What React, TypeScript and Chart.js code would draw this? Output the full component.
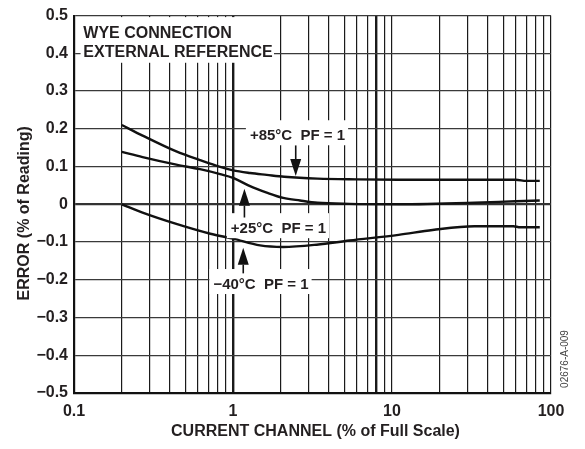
import React, { useEffect, useRef } from 'react';
import { Chart, registerables } from 'chart.js';

Chart.register(...registerables);

const FONT = '"Liberation Sans", Arial, Helvetica, sans-serif';
const TEXT = '#231f20';

// x-axis: current channel (% of full scale), log scale
const X_TICKS = [
  0.1, 0.2, 0.3, 0.4, 0.5, 0.6, 0.7, 0.8, 0.9,
  1, 2, 3, 4, 5, 6, 7, 8, 9,
  10, 20, 30, 40, 50, 60, 70, 80, 90, 100,
];
const X_LABELS = [0.1, 1, 10, 100];
const THICK_X = [1, 8];

// y-axis: error (% of reading)
const Y_MIN = -0.5;
const Y_MAX = 0.5;
const Y_STEP = 0.1;

// +85°C PF = 1
const x85 = [0.2, 0.27, 0.44, 0.62, 0.83, 1.0, 1.28, 1.63, 2.1, 3.4, 6, 11, 30, 60, 70, 85];
const y85 = [0.21, 0.182, 0.14, 0.117, 0.099, 0.09, 0.083, 0.078, 0.073, 0.068, 0.066, 0.065, 0.065, 0.065, 0.062, 0.062];

// +25°C PF = 1
const x25 = [0.2, 0.27, 0.44, 0.62, 0.83, 1.0, 1.28, 1.63, 2.07, 2.64, 3.4, 5.4, 11, 33, 60, 85];
const y25 = [0.139, 0.125, 0.105, 0.093, 0.08, 0.07, 0.048, 0.031, 0.017, 0.01, 0.004, 0.001, 0.0, 0.004, 0.008, 0.01];

// −40°C PF = 1
const xm40 = [0.2, 0.27, 0.44, 0.72, 1.0, 1.48, 2.07, 3.36, 5.4, 11, 18, 33, 58, 64, 85];
const ym40 = [0.0, -0.022, -0.052, -0.078, -0.091, -0.109, -0.113, -0.107, -0.096, -0.081, -0.068, -0.058, -0.058, -0.061, -0.061];

const SERIES_NAMES = ['+85°C  PF = 1', '+25°C  PF = 1', '−40°C  PF = 1'];

// annotation anchors in data units
const LABEL_X = [2.545, 1.93, 1.5];
const LABEL_Y = [0.1697, -0.0765, -0.2245];
const ARROW_X = [2.48, 1.18, 1.16];
const ARROW_TAIL = [0.156, -0.035, -0.183];
const ARROW_TIP = [0.075, 0.041, -0.115];

const TITLE_LINES = ['WYE CONNECTION', 'EXTERNAL REFERENCE'];
const X_TITLE = 'CURRENT CHANNEL (% of Full Scale)';
const Y_TITLE = 'ERROR (% of Reading)';
const CODE = '02676-A-009';

const toPoints = (xs: number[], ys: number[]) => xs.map((x, i) => ({ x, y: ys[i] }));

const fmtY = (v: number) => {
  const r = Math.round(v * 10) / 10;
  if (Math.abs(r) < 1e-9) return '0';
  return (r < 0 ? '\u2212' : '') + Math.abs(r).toFixed(1);
};

const annotPlugin = {
  id: 'annot',
  afterDraw(chart: any) {
    const { ctx, chartArea } = chart;
    const xs = chart.scales.x;
    const ys = chart.scales.y;
    ctx.save();

    // title box
    const tbL = xs.getPixelForValue(0.11);
    const tbR = xs.getPixelForValue(1.81);
    const tbT = chartArea.top + 1.5;
    const tbB = ys.getPixelForValue(0.375);
    ctx.fillStyle = '#ffffff';
    ctx.fillRect(tbL, tbT, tbR - tbL, tbB - tbT);
    ctx.fillStyle = TEXT;
    ctx.font = `bold 16px ${FONT}`;
    ctx.textAlign = 'left';
    ctx.textBaseline = 'alphabetic';
    const tx = xs.getPixelForValue(0.1145);
    ctx.fillText(TITLE_LINES[0], tx, ys.getPixelForValue(0.441));
    ctx.fillText(TITLE_LINES[1], tx, ys.getPixelForValue(0.389));

    // series labels + arrows
    ctx.font = `bold 15px ${FONT}`;
    for (let i = 0; i < SERIES_NAMES.length; i++) {
      const cx = xs.getPixelForValue(LABEL_X[i]);
      const by = ys.getPixelForValue(LABEL_Y[i]);
      const w = ctx.measureText(SERIES_NAMES[i]).width;
      ctx.fillStyle = '#ffffff';
      ctx.fillRect(cx - w / 2 - 4, by - 20, w + 7, 25);
      ctx.fillStyle = TEXT;
      ctx.textAlign = 'center';
      ctx.fillText(SERIES_NAMES[i], cx, by);

      const ax = xs.getPixelForValue(ARROW_X[i]);
      const tail = ys.getPixelForValue(ARROW_TAIL[i]);
      const tip = ys.getPixelForValue(ARROW_TIP[i]);
      const dir = tip > tail ? 1 : -1;
      const headLen = 17;
      const headW = 5.5;
      ctx.strokeStyle = '#111';
      ctx.lineWidth = 1.6;
      ctx.beginPath();
      ctx.moveTo(ax, tail);
      ctx.lineTo(ax, tip - dir * headLen);
      ctx.stroke();
      ctx.fillStyle = '#111';
      ctx.beginPath();
      ctx.moveTo(ax, tip);
      ctx.lineTo(ax - headW, tip - dir * headLen);
      ctx.lineTo(ax + headW, tip - dir * headLen);
      ctx.closePath();
      ctx.fill();
    }

    // axis titles
    ctx.fillStyle = TEXT;
    ctx.font = `bold 16px ${FONT}`;
    ctx.textAlign = 'center';
    ctx.textBaseline = 'middle';
    ctx.fillText(X_TITLE, (chartArea.left + chartArea.right) / 2 + 3, 432);
    ctx.save();
    ctx.translate(25, (chartArea.top + chartArea.bottom) / 2 + 9);
    ctx.rotate(-Math.PI / 2);
    ctx.fillText(Y_TITLE, 0, 0);
    ctx.restore();

    // figure code
    ctx.save();
    ctx.fillStyle = '#444';
    ctx.font = `10px ${FONT}`;
    ctx.translate(chartArea.right + 14, chartArea.bottom - 34);
    ctx.rotate(-Math.PI / 2);
    ctx.fillText(CODE, 0, 0);
    ctx.restore();

    ctx.restore();
  },
};

export default function App() {
  const ref = useRef<HTMLCanvasElement | null>(null);

  useEffect(() => {
    if (!ref.current) return;
    const lineStyle = {
      borderColor: '#111',
      borderWidth: 2.4,
      pointRadius: 0,
      fill: false,
      cubicInterpolationMode: 'monotone' as const,
    };
    const chart = new Chart(ref.current, {
      type: 'line',
      data: {
        datasets: [
          { label: SERIES_NAMES[0], data: toPoints(x85, y85), ...lineStyle },
          { label: SERIES_NAMES[1], data: toPoints(x25, y25), ...lineStyle },
          { label: SERIES_NAMES[2], data: toPoints(xm40, ym40), ...lineStyle },
        ],
      },
      options: {
        animation: false,
        responsive: false,
        devicePixelRatio: 1,
        layout: { padding: { top: 10, right: 34, left: 0, bottom: 0 } },
        plugins: { legend: { display: false }, tooltip: { enabled: false } },
        scales: {
          x: {
            type: 'logarithmic',
            min: 0.1,
            max: 100,
            afterBuildTicks: (s: any) => {
              s.ticks = X_TICKS.map((v) => ({ value: v }));
            },
            afterFit: (s: any) => {
              s.height = 56;
            },
            ticks: {
              autoSkip: false,
              maxRotation: 0,
              minRotation: 0,
              padding: 9,
              color: TEXT,
              font: { size: 16, weight: 'bold', family: FONT },
              callback: (v: any) => (X_LABELS.includes(Number(v)) ? String(v) : ''),
            },
            grid: {
              drawTicks: false,
              color: '#1a1a1a',
              lineWidth: (c: any) => (c.tick && THICK_X.includes(c.tick.value) ? 2.4 : 1.2),
            },
            border: { display: true, color: '#111', width: 2.2 },
          },
          y: {
            type: 'linear',
            min: Y_MIN,
            max: Y_MAX,
            afterFit: (s: any) => {
              s.width = 74;
            },
            ticks: {
              stepSize: Y_STEP,
              padding: 6,
              color: TEXT,
              font: { size: 16, weight: 'bold', family: FONT },
              callback: (v: any) => fmtY(Number(v)),
            },
            grid: {
              drawTicks: false,
              color: (c: any) => (c.tick && Math.abs(c.tick.value) < 1e-9 ? '#333' : '#3a3a3a'),
              lineWidth: (c: any) => (c.tick && Math.abs(c.tick.value) < 1e-9 ? 2.2 : 1.3),
            },
            border: { display: true, color: '#111', width: 2.2 },
          },
        },
      },
      plugins: [annotPlugin],
    } as any);
    return () => chart.destroy();
  }, []);

  return (
    <div style={{ position: 'absolute', left: 0, top: 0, width: 585, height: 449, background: '#fff' }}>
      <canvas ref={ref} width={585} height={449} style={{ display: 'block' }} />
    </div>
  );
}
